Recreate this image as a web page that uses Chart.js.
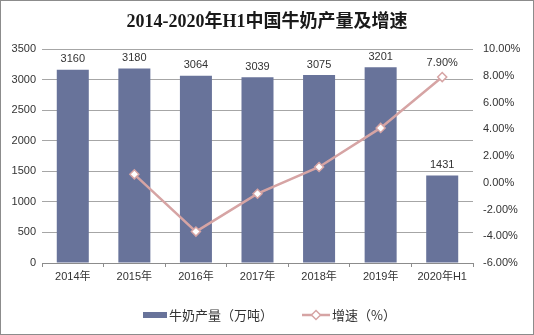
<!DOCTYPE html>
<html>
<head>
<meta charset="utf-8">
<script src="https://cdn.jsdelivr.net/npm/chart.js@4/dist/chart.umd.min.js"></script>
<style>
    body { margin: 0; background: #fff; }
    .chart-box {
        width: 534px;
        height: 335px;
        box-sizing: border-box;
        border: 1px solid #8c8c8c;
        position: relative;
    }
    canvas { display: block; }
</style>
</head>
<body>
<div class="chart-box">
    <canvas id="milkChart" width="532" height="333"></canvas>
</div>
<script>
// Chart data
const years = ['2014年', '2015年', '2016年', '2017年', '2018年', '2019年', '2020年H1'];
const milkOutput = [3160, 3180, 3064, 3039, 3075, 3201, 1431];
const growthRate = [null, 0.63, -3.65, -0.82, 1.18, 4.10, 7.90];
const outputTicks = [0, 500, 1000, 1500, 2000, 2500, 3000, 3500];
const rateTicks = [-6, -4, -2, 0, 2, 4, 6, 8, 10];

const titleText = '2014-2020年H1中国牛奶产量及增速';
const barLabel = '牛奶产量（万吨）';
const lineLabel = '增速（%）';

const barColor = '#68739a';
const lineColor = '#d6a4a4';
const textColor = '#333333';
const tickFont = { family: 'Liberation Sans, Arial, "Noto Sans CJK SC"', size: 11 };

// Title, value labels and legend
const decorPlugin = {
    id: 'decor',
    afterDatasetsDraw(chart) {
        const ctx = chart.ctx;
        ctx.save();

        // value labels above bars
        ctx.fillStyle = textColor;
        ctx.font = '11px Liberation Sans, Arial';
        ctx.textAlign = 'center';
        ctx.textBaseline = 'bottom';
        chart.getDatasetMeta(1).data.forEach((bar, i) => {
            ctx.fillText(String(milkOutput[i]), bar.x, bar.y - 5);
        });

        // only the last growth point is labelled
        const pts = chart.getDatasetMeta(0).data;
        const last = pts[pts.length - 1];
        ctx.fillText(growthRate[growthRate.length - 1].toFixed(2) + '%', last.x, last.y - 9);

        // title
        ctx.font = 'bold 18px "Liberation Serif", "Noto Sans CJK SC"';
        ctx.fillStyle = '#1a1a1a';
        ctx.textBaseline = 'middle';
        ctx.fillText(titleText, chart.width / 2, 21);

        // legend
        const ly = 314;
        ctx.fillStyle = barColor;
        ctx.fillRect(142, ly - 3, 24, 6);
        ctx.font = '13px "Noto Sans CJK SC", sans-serif';
        ctx.fillStyle = textColor;
        ctx.textAlign = 'left';
        ctx.fillText(barLabel, 168, ly);

        ctx.strokeStyle = lineColor;
        ctx.lineWidth = 2.5;
        ctx.beginPath();
        ctx.moveTo(301, ly);
        ctx.lineTo(329, ly);
        ctx.stroke();
        ctx.fillStyle = '#fff';
        ctx.lineWidth = 1.5;
        ctx.beginPath();
        ctx.moveTo(315, ly - 4.5);
        ctx.lineTo(319.5, ly);
        ctx.lineTo(315, ly + 4.5);
        ctx.lineTo(310.5, ly);
        ctx.closePath();
        ctx.fill();
        ctx.stroke();
        ctx.fillStyle = textColor;
        ctx.fillText(lineLabel, 331, ly);

        ctx.restore();
    }
};

const ctx = document.getElementById('milkChart');
new Chart(ctx, {
    data: {
        labels: years,
        datasets: [{
            type: 'line',
            label: lineLabel,
            data: growthRate,
            yAxisID: 'y1',
            borderColor: lineColor,
            borderWidth: 2.5,
            pointStyle: 'rectRot',
            pointRadius: 4.5,
            pointBackgroundColor: '#fff',
            pointBorderColor: lineColor,
            pointBorderWidth: 1.5,
            tension: 0,
            order: 0
        }, {
            type: 'bar',
            label: barLabel,
            data: milkOutput,
            yAxisID: 'y',
            backgroundColor: barColor,
            categoryPercentage: 1,
            barPercentage: 0.52,
            order: 1
        }]
    },
    options: {
        responsive: false,
        animation: false,
        layout: {
            padding: { top: 48, bottom: 41, left: 0, right: 0 }
        },
        plugins: {
            legend: { display: false },
            title: { display: false },
            tooltip: { enabled: false }
        },
        scales: {
            x: {
                offset: true,
                grid: {
                    offset: true,
                    drawOnChartArea: false,
                    drawTicks: true,
                    tickLength: 4,
                    color: '#8c8c8c'
                },
                border: { display: true, color: '#8c8c8c' },
                ticks: { font: tickFont, color: textColor, padding: 3 },
                afterFit(scale) { scale.height = 30; }
            },
            y: {
                position: 'left',
                min: 0,
                max: 3500,
                afterBuildTicks(scale) {
                    scale.ticks = outputTicks.map(v => ({ value: v }));
                },
                grid: { color: '#a6a6a6', drawTicks: false },
                border: { display: false },
                ticks: {
                    font: tickFont,
                    color: textColor,
                    padding: 6,
                    callback: function(value) {
                        return String(value);
                    }
                },
                afterFit(scale) { scale.width = 41; }
            },
            y1: {
                position: 'right',
                min: -6,
                max: 10,
                afterBuildTicks(scale) {
                    scale.ticks = rateTicks.map(v => ({ value: v }));
                },
                grid: { drawOnChartArea: false, drawTicks: false },
                border: { display: false },
                ticks: {
                    font: tickFont,
                    color: textColor,
                    padding: 10,
                    callback: function(value) {
                        return value.toFixed(2) + '%';
                    }
                },
                afterFit(scale) { scale.width = 60; }
            }
        }
    },
    plugins: [decorPlugin]
});
</script>
</body>
</html>
